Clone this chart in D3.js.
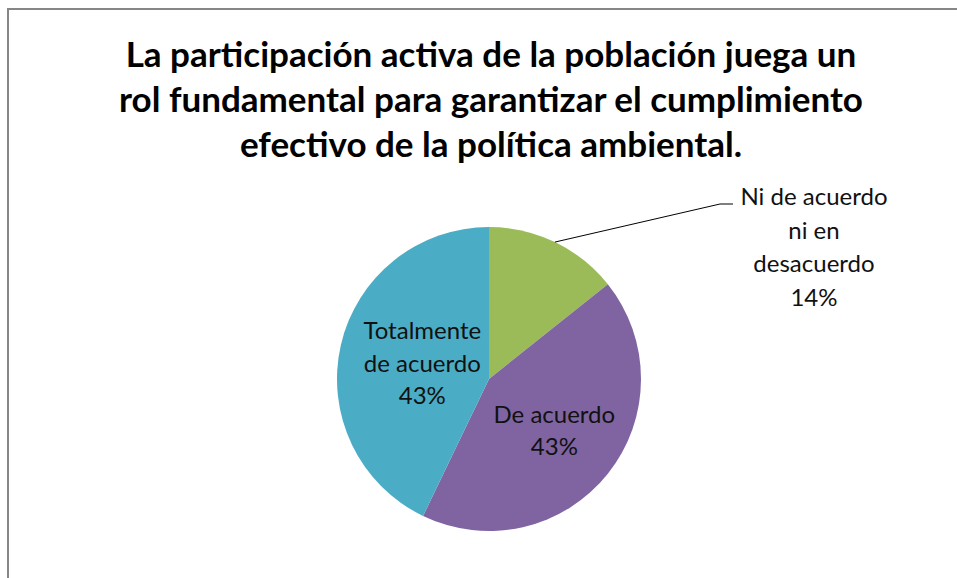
<!DOCTYPE html>
<html lang="es">
<head>
    <meta charset="UTF-8">
    <title>pie</title>
    <style>
        body{margin:0; background:#fff;}
        svg{display:block;}
    </style>
</head>
<body>
    <div id="chart"></div>
    <script src="https://cdn.jsdelivr.net/npm/d3@7"></script>
    <script>
        // datos
        var categories = ['Ni de acuerdo ni en desacuerdo', 'De acuerdo', 'Totalmente de acuerdo'];
        var values = [1, 3, 3];
        var colors = ['#9BBB59', '#8064A2', '#4BACC6'];
        var titleLines = ['La participación activa de la población juega un',
                          'rol fundamental para garantizar el cumplimiento',
                          'efectivo de la política ambiental.'];
        // lineas de cada etiqueta
        var labelLines = [['Ni de acuerdo', 'ni en', 'desacuerdo'], ['De acuerdo'], ['Totalmente', 'de acuerdo']];

        var width = 957, height = 578;
        var cx = 489, cy = 379, radius = 152;
        var font = "Lato, 'Open Sans', sans-serif";
        // radio relativo de la etiqueta interna
        var labelR = [0, 0.55, 0.45];

        var svg = d3.select('#chart').append('svg')
            .attr('width', width)
            .attr('height', height);

        // marco
        svg.append('rect')
            .attr('x', 8).attr('y', 9)
            .attr('width', 1000).attr('height', 700)
            .attr('fill', 'none')
            .attr('stroke', '#868686')
            .attr('stroke-width', 2);

        // titulo
        svg.append('g').selectAll('text')
            .data(titleLines)
            .enter()
            .append('text')
            .attr('x', 491)
            .attr('y', function(d, i){ return 67 + i * 45; })
            .attr('text-anchor', 'middle')
            .style('font-family', font)
            .style('font-weight', 'bold')
            .style('font-size', '35px')
            .attr('fill', '#000')
            .text(function(d){ return d; });

        var total = d3.sum(values);
        var pie = d3.pie().sort(null).value(function(d){ return d; });
        var arcs = pie(values);
        var arc = d3.arc().innerRadius(0).outerRadius(radius);
        var edgeArc = d3.arc().innerRadius(radius).outerRadius(radius);

        var g = svg.append('g').attr('transform', 'translate(' + cx + ',' + cy + ')');

        g.selectAll('path')
            .data(arcs)
            .enter()
            .append('path')
            .attr('d', arc)
            .attr('fill', function(d, i){ return colors[i]; });

        function pct(v){ return Math.round(v / total * 100) + '%'; }

        // etiquetas internas
        arcs.forEach(function(d, i){
            if (i === 0) return;
            var lines = labelLines[i].concat([pct(values[i])]);
            var r = radius * labelR[i];
            var c = d3.arc().innerRadius(r).outerRadius(r).centroid(d);
            var lh = 32.5;
            var t = g.append('text')
                .attr('text-anchor', 'middle')
                .style('font-family', font)
                .style('font-size', '24px')
                .attr('fill', '#111');
            lines.forEach(function(s, j){
                t.append('tspan')
                    .attr('x', c[0])
                    .attr('y', c[1] + (j - (lines.length - 1) / 2) * lh + 8)
                    .text(s);
            });
        });

        // etiqueta externa con linea guia
        var first = arcs[0];
        var p0 = edgeArc.centroid(first);
        var lx = 814 - cx, ly = 204 - cy;
        g.append('polyline')
            .attr('points', [p0, [lx - 94, ly], [lx - 81, ly]].map(function(p){ return p.join(','); }).join(' '))
            .attr('fill', 'none')
            .attr('stroke', '#000')
            .attr('stroke-width', 1);

        var outLines = labelLines[0].concat([pct(values[0])]);
        var ot = g.append('text')
            .attr('text-anchor', 'middle')
            .style('font-family', font)
            .style('font-size', '24px')
            .attr('fill', '#111');
        outLines.forEach(function(s, j){
            ot.append('tspan')
                .attr('x', lx)
                .attr('y', ly + 1 + j * 33.7)
                .text(s);
        });
    </script>
</body>
</html>
